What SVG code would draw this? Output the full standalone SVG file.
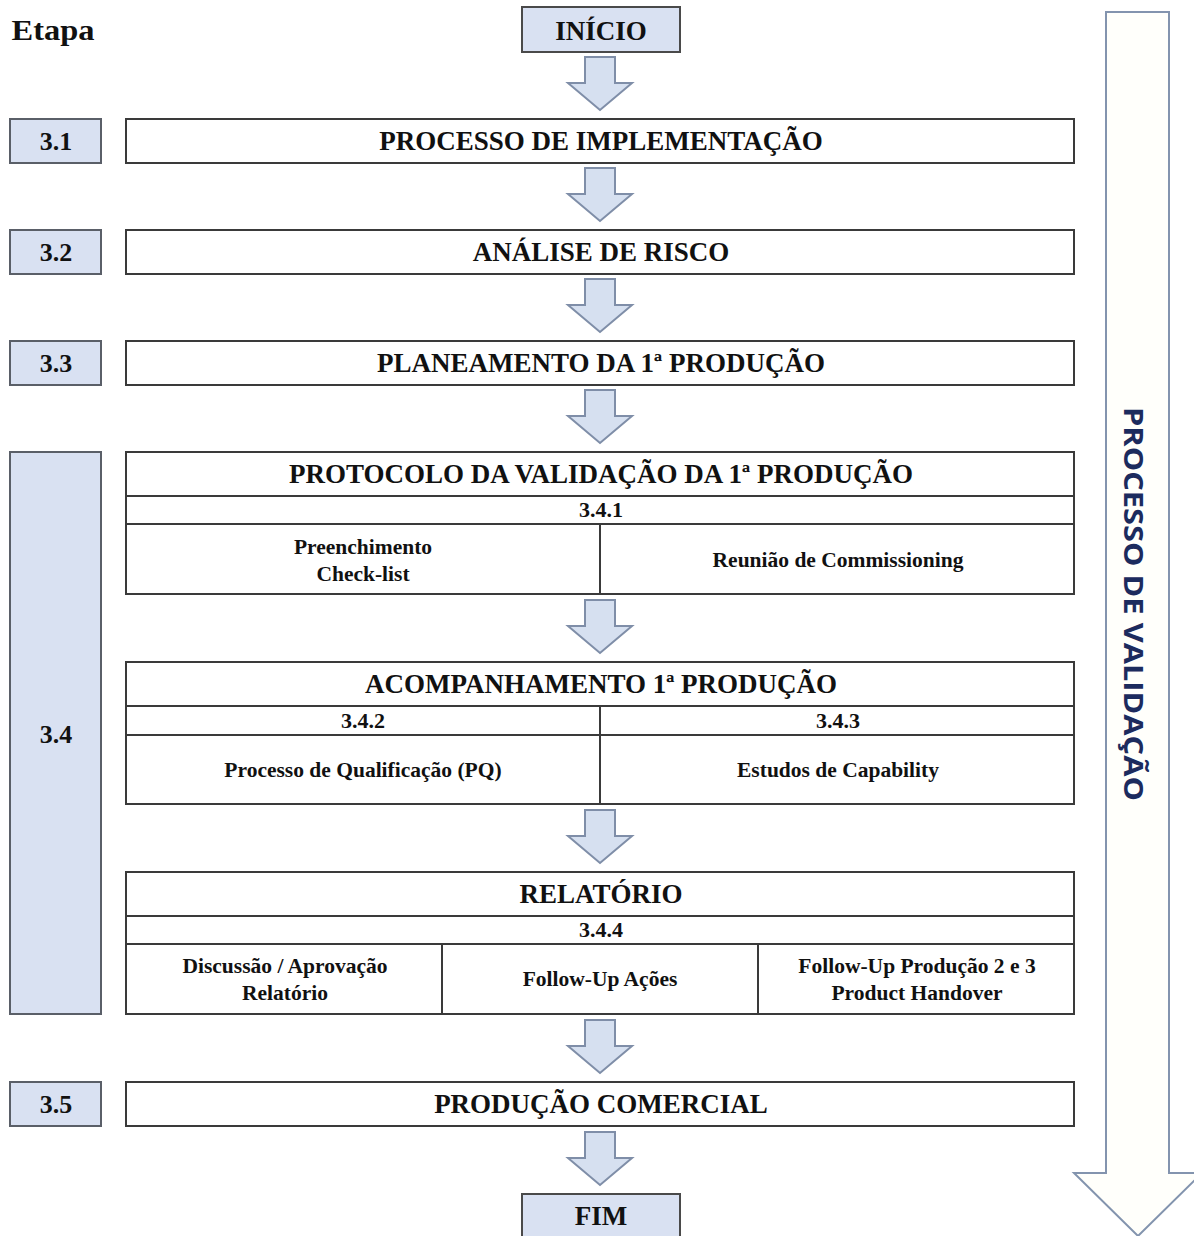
<svg xmlns="http://www.w3.org/2000/svg" width="1194" height="1236" viewBox="0 0 1194 1236">
  <style>
    .bg { fill: #ffffff; }
    .box { fill: #ffffff; stroke: #3a3a3a; stroke-width: 2; }
    .line { stroke: #3a3a3a; stroke-width: 2; fill: none; }
    .stage { fill: #d9e1f2; stroke: #5a5f68; stroke-width: 2; }
    .step { fill: #d9e1f2; stroke: #4a4a4a; stroke-width: 2; }
    .flow { fill: #d6e0f0; stroke: #7f8ea8; stroke-width: 2; stroke-linejoin: miter; }
    .big { fill: #fffffb; stroke: #8394ae; stroke-width: 2; }
    text { font-family: "Liberation Serif", "Times New Roman", serif; font-weight: bold; fill: #111111; text-anchor: middle; }
    .t27 { font-size: 27px; }
    .t26 { font-size: 26px; }
    .t22 { font-size: 22px; }
    .t21 { font-size: 21.5px; }
    .vert { font-family: "Open Sans", "Noto Sans", "Liberation Sans", sans-serif; font-size: 27px; font-weight: bold; fill: #1c2b5e; }
  </style>
  <defs>
    <!-- block arrow between stages, drawn with its tip at (0,0) -->
    <path id="down" d="M-15,-53 H15 V-27 H32 L0,0 L-32,-27 H-15 Z"/>
  </defs>

  <rect class="bg" x="0" y="0" width="1194" height="1236"/>

  <!-- column heading -->
  <text x="53" y="40" font-size="30" textLength="83" lengthAdjust="spacingAndGlyphs">Etapa</text>

  <!-- overall validation arrow on the right -->
  <g id="processo-validacao">
    <path class="big" d="M1106,12 H1169 V1173 H1202 L1138,1236 L1074,1173 H1106 Z"/>
    <text class="vert" transform="translate(1124,604) rotate(90)" x="0" y="0" textLength="394" lengthAdjust="spacingAndGlyphs">PROCESSO DE VALIDAÇÃO</text>
  </g>

  <!-- stage numbers -->
  <g id="etapa-3-1"><rect class="stage" x="10" y="119" width="91" height="44"/><text class="t26" x="56" y="150">3.1</text></g>
  <g id="etapa-3-2"><rect class="stage" x="10" y="230" width="91" height="44"/><text class="t26" x="56" y="261">3.2</text></g>
  <g id="etapa-3-3"><rect class="stage" x="10" y="341" width="91" height="44"/><text class="t26" x="56" y="372">3.3</text></g>
  <g id="etapa-3-4"><rect class="stage" x="10" y="452" width="91" height="562"/><text class="t26" x="56" y="743">3.4</text></g>
  <g id="etapa-3-5"><rect class="stage" x="10" y="1082" width="91" height="44"/><text class="t26" x="56" y="1113">3.5</text></g>

  <!-- start / end -->
  <g id="inicio"><rect class="step" x="522" y="7" width="158" height="45"/><text class="t27" x="601" y="40">INÍCIO</text></g>
  <g id="fim"><rect class="step" x="522" y="1194" width="158" height="48"/><text class="t27" x="601" y="1225">FIM</text></g>

  <!-- single-row stages -->
  <g id="processo-implementacao">
    <rect class="box" x="126" y="119" width="948" height="44"/>
    <text class="t27" x="601" y="150">PROCESSO DE IMPLEMENTAÇÃO</text>
  </g>
  <g id="analise-risco">
    <rect class="box" x="126" y="230" width="948" height="44"/>
    <text class="t27" x="601" y="261">ANÁLISE DE RISCO</text>
  </g>
  <g id="planeamento">
    <rect class="box" x="126" y="341" width="948" height="44"/>
    <text class="t27" x="601" y="372">PLANEAMENTO DA 1ª PRODUÇÃO</text>
  </g>

  <!-- 3.4.1 protocol -->
  <g id="protocolo">
    <rect class="box" x="126" y="452" width="948" height="142"/>
    <path class="line" d="M126,496 H1074 M126,524 H1074 M600,524 V594"/>
    <text class="t27" x="601" y="483">PROTOCOLO DA VALIDAÇÃO DA 1ª PRODUÇÃO</text>
    <text class="t22" x="601" y="517">3.4.1</text>
    <text class="t21" x="363" y="554">Preenchimento</text>
    <text class="t21" x="363" y="581">Check-list</text>
    <text class="t21" x="838" y="567">Reunião de Commissioning</text>
  </g>

  <!-- 3.4.2 / 3.4.3 follow-up -->
  <g id="acompanhamento">
    <rect class="box" x="126" y="662" width="948" height="142"/>
    <path class="line" d="M126,706 H1074 M126,735 H1074 M600,706 V804"/>
    <text class="t27" x="601" y="693">ACOMPANHAMENTO 1ª PRODUÇÃO</text>
    <text class="t22" x="363" y="728">3.4.2</text>
    <text class="t22" x="838" y="728">3.4.3</text>
    <text class="t21" x="363" y="777">Processo de Qualificação (PQ)</text>
    <text class="t21" x="838" y="777">Estudos de Capability</text>
  </g>

  <!-- 3.4.4 report -->
  <g id="relatorio">
    <rect class="box" x="126" y="872" width="948" height="142"/>
    <path class="line" d="M126,916 H1074 M126,944 H1074 M442,944 V1014 M758,944 V1014"/>
    <text class="t27" x="601" y="903">RELATÓRIO</text>
    <text class="t22" x="601" y="937">3.4.4</text>
    <text class="t21" x="285" y="973">Discussão / Aprovação</text>
    <text class="t21" x="285" y="1000">Relatório</text>
    <text class="t21" x="600" y="986">Follow-Up Ações</text>
    <text class="t21" x="917" y="973">Follow-Up Produção 2 e 3</text>
    <text class="t21" x="917" y="1000">Product Handover</text>
  </g>

  <g id="producao-comercial">
    <rect class="box" x="126" y="1082" width="948" height="44"/>
    <text class="t27" x="601" y="1113">PRODUÇÃO COMERCIAL</text>
  </g>

  <!-- connectors -->
  <g id="connectors">
    <use href="#down" class="flow" x="600" y="110"/>
    <use href="#down" class="flow" x="600" y="221"/>
    <use href="#down" class="flow" x="600" y="332"/>
    <use href="#down" class="flow" x="600" y="443"/>
    <use href="#down" class="flow" x="600" y="653"/>
    <use href="#down" class="flow" x="600" y="863"/>
    <use href="#down" class="flow" x="600" y="1073"/>
    <use href="#down" class="flow" x="600" y="1185"/>
  </g>
</svg>
